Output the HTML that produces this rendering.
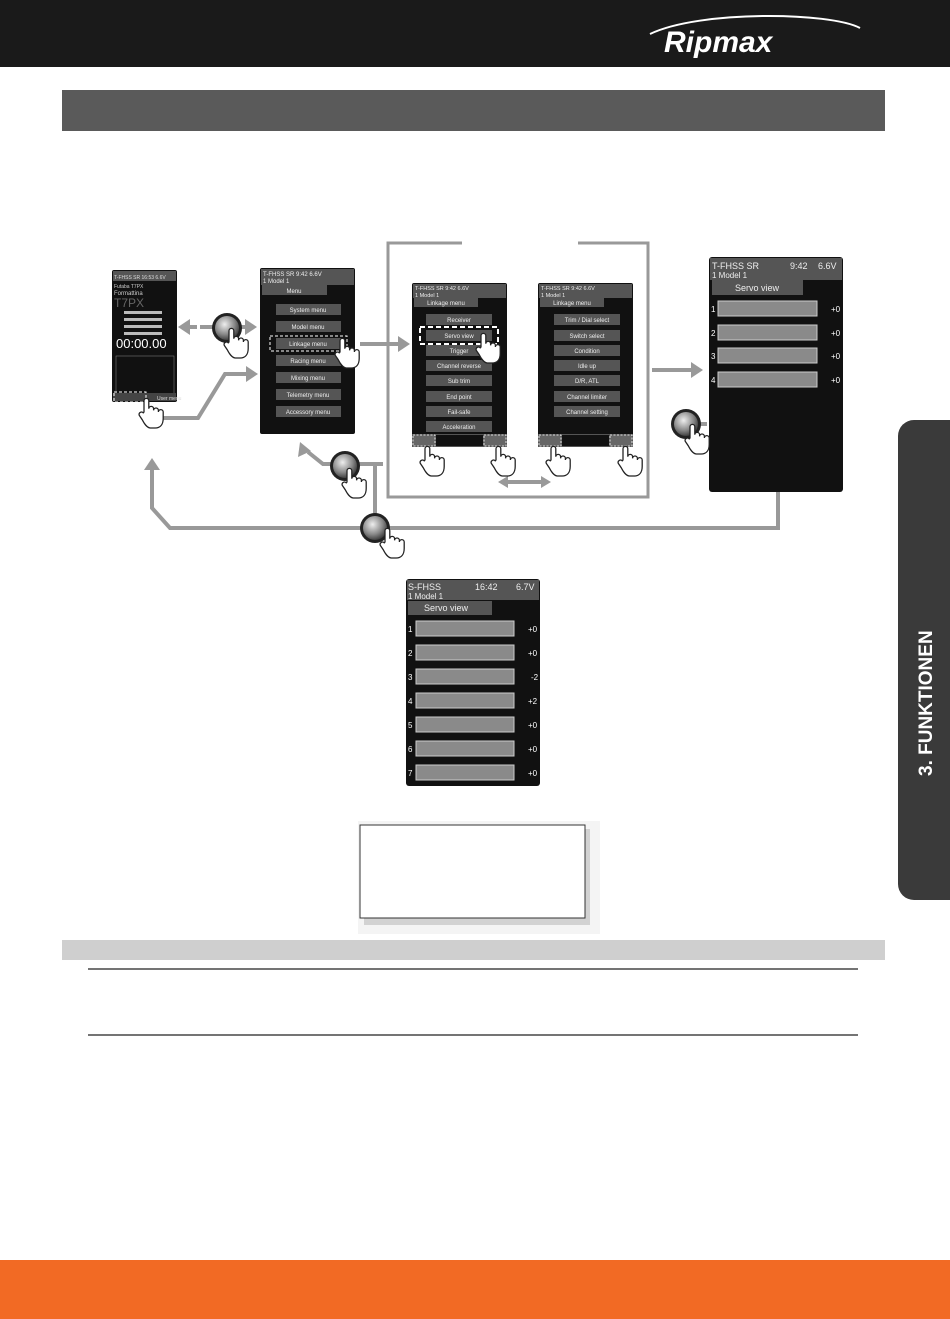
<!DOCTYPE html>
<html><head><meta charset="utf-8"><style>
html,body{margin:0;padding:0;background:#fff;}
svg{display:block;font-family:"Liberation Sans",sans-serif;}
</style></head><body>
<svg width="950" height="1319" viewBox="0 0 950 1319" xmlns="http://www.w3.org/2000/svg">
<defs>
<g id="hand"><path transform="scale(0.8)" d="M0,0 v-14 a3,3 0 0 1 6,0 v10 a3,3 0 0 1 6,0 v2 a3,3 0 0 1 6,0 v2 a3,3 0 0 1 6,0 v8 c0,8 -4,12 -10,12 h-6 c-4,0 -8,-6 -10,-10 l-4,-6 a3,3 0 0 1 5,-3 z" fill="#fff" stroke="#222" stroke-width="1.6"/></g>
<radialGradient id="bt" cx="0.4" cy="0.35" r="0.7"><stop offset="0" stop-color="#eee"/><stop offset="0.6" stop-color="#888"/><stop offset="1" stop-color="#333"/></radialGradient>
<g id="btn"><circle r="15" fill="#222"/><circle r="12" fill="url(#bt)"/></g>
</defs>
<rect x="0" y="0" width="950" height="67" fill="#1a1a1a"/>
<path d="M650,34 C700,10 830,12 860,28" stroke="#fff" stroke-width="2" fill="none"/>
<text x="664" y="52" font-size="30" font-weight="bold" font-style="italic" fill="#fff">Ripmax</text>
<rect x="62" y="90" width="823" height="41" fill="#5a5a5a"/>

<g stroke="#999" stroke-width="3" fill="none">
<path d="M462,243 H388 V497 H648 V243 H578"/>
</g>
<g stroke="#999" stroke-width="4" fill="none">
<path d="M200,327 H248"/><path d="M197,327 H182"/>
<path d="M160,418 H198 L225,374 H248"/>
<path d="M360,344 H400"/>
<path d="M652,370 H692"/>
<path d="M707,424 H690"/>
<path d="M383,464 H323 L308,452"/>
<path d="M375,464 V520"/>
<path d="M778,492 V528 H170 L152,508 V468"/>
<path d="M503,482 H545"/>
</g>
<g fill="#999">
<polygon points="257,327 245,319 245,335"/><polygon points="178,327 190,319 190,335"/>
<polygon points="258,374 246,366 246,382"/>
<polygon points="410,344 398,336 398,352"/>
<polygon points="703,370 691,362 691,378"/>
<polygon points="300,442 298,457 311,451"/>
<polygon points="152,458 144,470 160,470"/>
<polygon points="498,482 508,476 508,488"/><polygon points="551,482 541,476 541,488"/>
</g>

<!-- S1 -->
<rect x="112" y="270" width="65" height="132" rx="2" fill="#111"/>
<rect x="113" y="271" width="63" height="10" fill="#555"/>
<text x="114" y="279" font-size="5" fill="#ddd">T-FHSS SR 16:53 6.6V</text>
<text x="114" y="288" font-size="5" fill="#ccc">Futaba T7PX</text>
<text x="114" y="295" font-size="6" fill="#ccc">Formattina</text>
<text x="114" y="307" font-size="12" fill="#666">T7PX</text>
<g fill="#bbb"><rect x="124" y="311" width="38" height="3"/><rect x="124" y="318" width="38" height="3"/><rect x="124" y="325" width="38" height="3"/><rect x="124" y="332" width="38" height="3"/></g>
<text x="116" y="348" font-size="13" fill="#fff">00:00.00</text>
<rect x="116" y="356" width="58" height="38" fill="none" stroke="#777" stroke-width="0.6"/>
<rect x="113" y="393" width="63" height="8" fill="#444"/>
<rect x="114" y="392" width="32" height="10" fill="none" stroke="#fff" stroke-dasharray="3,2"/>
<text x="157" y="400" font-size="5" fill="#ddd">User menu</text>

<!-- S2 -->
<rect x="260" y="268" width="95" height="166" rx="2" fill="#111"/>
<rect x="261" y="269" width="93" height="16" fill="#555"/>
<text x="263" y="276" font-size="6" fill="#eee">T-FHSS SR  9:42  6.6V</text>
<text x="263" y="283" font-size="6" fill="#eee">1  Model 1</text>
<rect x="262" y="285" width="65" height="10" fill="#555"/>
<text x="294" y="293" font-size="6" fill="#eee" text-anchor="middle">Menu</text>
<g fill="#555"><rect x="276" y="304" width="65" height="11"/><rect x="276" y="321" width="65" height="11"/><rect x="276" y="338" width="65" height="11"/><rect x="276" y="355" width="65" height="11"/><rect x="276" y="372" width="65" height="11"/><rect x="276" y="389" width="65" height="11"/><rect x="276" y="406" width="65" height="11"/></g>
<g font-size="6" fill="#eee" text-anchor="middle"><text x="308" y="312">System menu</text><text x="308" y="329">Model menu</text><text x="308" y="346">Linkage menu</text><text x="308" y="363">Racing menu</text><text x="308" y="380">Mixing menu</text><text x="308" y="397">Telemetry menu</text><text x="308" y="414">Accessory menu</text></g>
<rect x="270" y="336" width="77" height="15" fill="none" stroke="#fff" stroke-dasharray="3,2"/>

<!-- S3 -->
<rect x="412" y="283" width="95" height="164" rx="2" fill="#111"/>
<rect x="413" y="284" width="93" height="14" fill="#555"/>
<text x="415" y="290" font-size="5.5" fill="#eee">T-FHSS SR  9:42  6.6V</text>
<text x="415" y="297" font-size="5.5" fill="#eee">1  Model 1</text>
<rect x="414" y="298" width="64" height="9" fill="#555"/>
<text x="446" y="305" font-size="6" fill="#eee" text-anchor="middle">Linkage menu</text>
<g fill="#555"><rect x="426" y="314" width="66" height="11"/><rect x="426" y="330" width="66" height="11"/><rect x="426" y="345" width="66" height="11"/><rect x="426" y="360" width="66" height="11"/><rect x="426" y="375" width="66" height="11"/><rect x="426" y="391" width="66" height="11"/><rect x="426" y="406" width="66" height="11"/><rect x="426" y="421" width="66" height="11"/></g>
<g font-size="6" fill="#eee" text-anchor="middle"><text x="459" y="322">Receiver</text><text x="459" y="338">Servo view</text><text x="459" y="353">Trigger</text><text x="459" y="368">Channel reverse</text><text x="459" y="383">Sub trim</text><text x="459" y="399">End point</text><text x="459" y="414">Fail-safe</text><text x="459" y="429">Acceleration</text></g>
<rect x="420" y="327" width="78" height="17" fill="none" stroke="#fff" stroke-width="2" stroke-dasharray="5,3"/>
<rect x="412" y="434" width="95" height="13" fill="#555"/>
<rect x="413" y="435" width="22" height="11" fill="#666" stroke="#fff" stroke-dasharray="2,1.5" stroke-width="0.8"/>
<rect x="484" y="435" width="22" height="11" fill="#666" stroke="#fff" stroke-dasharray="2,1.5" stroke-width="0.8"/>
<rect x="436" y="435" width="47" height="11" fill="#111"/>

<!-- S4 -->
<rect x="538" y="283" width="95" height="164" rx="2" fill="#111"/>
<rect x="539" y="284" width="93" height="14" fill="#555"/>
<text x="541" y="290" font-size="5.5" fill="#eee">T-FHSS SR  9:42  6.6V</text>
<text x="541" y="297" font-size="5.5" fill="#eee">1  Model 1</text>
<rect x="540" y="298" width="64" height="9" fill="#555"/>
<text x="572" y="305" font-size="6" fill="#eee" text-anchor="middle">Linkage menu</text>
<g fill="#555"><rect x="554" y="314" width="66" height="11"/><rect x="554" y="330" width="66" height="11"/><rect x="554" y="345" width="66" height="11"/><rect x="554" y="360" width="66" height="11"/><rect x="554" y="375" width="66" height="11"/><rect x="554" y="391" width="66" height="11"/><rect x="554" y="406" width="66" height="11"/></g>
<g font-size="6" fill="#eee" text-anchor="middle"><text x="587" y="322">Trim / Dial select</text><text x="587" y="338">Switch select</text><text x="587" y="353">Condition</text><text x="587" y="368">Idle up</text><text x="587" y="383">D/R, ATL</text><text x="587" y="399">Channel limiter</text><text x="587" y="414">Channel setting</text></g>
<rect x="538" y="434" width="95" height="13" fill="#555"/>
<rect x="539" y="435" width="22" height="11" fill="#666" stroke="#fff" stroke-dasharray="2,1.5" stroke-width="0.8"/>
<rect x="610" y="435" width="22" height="11" fill="#666" stroke="#fff" stroke-dasharray="2,1.5" stroke-width="0.8"/>
<rect x="562" y="435" width="47" height="11" fill="#111"/>

<!-- S5 -->
<rect x="709" y="257" width="134" height="235" rx="3" fill="#111"/>
<rect x="710" y="258" width="132" height="22" fill="#555"/>
<text x="712" y="269" font-size="9" fill="#eee">T-FHSS SR</text><text x="790" y="269" font-size="9" fill="#eee">9:42</text><text x="818" y="269" font-size="9" fill="#eee">6.6V</text>
<text x="712" y="278" font-size="8" fill="#eee">1    Model 1</text>
<rect x="712" y="280" width="91" height="15" fill="#555"/>
<text x="757" y="291" font-size="9" fill="#eee" text-anchor="middle">Servo view</text>
<g font-size="8" fill="#fff">
<text x="711" y="312">1</text><text x="711" y="336">2</text><text x="711" y="359">3</text><text x="711" y="383">4</text>
<text x="831" y="312">+0</text><text x="831" y="336">+0</text><text x="831" y="359">+0</text><text x="831" y="383">+0</text></g>
<g fill="#8a8a8a" stroke="#ccc" stroke-width="1"><rect x="718" y="301" width="99" height="15"/><rect x="718" y="325" width="99" height="15"/><rect x="718" y="348" width="99" height="15"/><rect x="718" y="372" width="99" height="15"/></g>

<!-- S6 -->
<rect x="406" y="579" width="134" height="207" rx="3" fill="#111"/>
<rect x="407" y="580" width="132" height="20" fill="#555"/>
<text x="408" y="590" font-size="9" fill="#eee">S-FHSS</text><text x="475" y="590" font-size="9" fill="#eee">16:42</text><text x="516" y="590" font-size="9" fill="#eee">6.7V</text>
<text x="408" y="599" font-size="8" fill="#eee">1    Model 1</text>
<rect x="408" y="601" width="84" height="14" fill="#555"/>
<text x="446" y="611" font-size="9" fill="#eee" text-anchor="middle">Servo view</text>
<g font-size="8" fill="#fff">
<text x="408" y="632">1</text><text x="408" y="656">2</text><text x="408" y="680">3</text><text x="408" y="704">4</text><text x="408" y="728">5</text><text x="408" y="752">6</text><text x="408" y="776">7</text>
<text x="528" y="632">+0</text><text x="528" y="656">+0</text><text x="531" y="680">-2</text><text x="528" y="704">+2</text><text x="528" y="728">+0</text><text x="528" y="752">+0</text><text x="528" y="776">+0</text></g>
<g fill="#8a8a8a" stroke="#ccc" stroke-width="1"><rect x="416" y="621" width="98" height="15"/><rect x="416" y="645" width="98" height="15"/><rect x="416" y="669" width="98" height="15"/><rect x="416" y="693" width="98" height="15"/><rect x="416" y="717" width="98" height="15"/><rect x="416" y="741" width="98" height="15"/><rect x="416" y="765" width="98" height="15"/></g>

<!-- buttons & hands -->
<use href="#btn" x="227" y="328"/><use href="#hand" x="229" y="342"/>
<use href="#hand" x="144" y="412"/>
<use href="#hand" x="340" y="352"/>
<use href="#hand" x="481" y="347"/>
<use href="#btn" x="345" y="466"/><use href="#hand" x="347" y="482"/>
<use href="#btn" x="375" y="528"/><use href="#hand" x="385" y="542"/>
<use href="#btn" x="686" y="424"/><use href="#hand" x="690" y="438"/>
<use href="#hand" x="425" y="460"/><use href="#hand" x="496" y="460"/>
<use href="#hand" x="551" y="460"/><use href="#hand" x="623" y="460"/>

<!-- note box -->
<rect x="358" y="821" width="242" height="113" fill="#f4f4f4"/>
<rect x="364" y="829" width="226" height="96" fill="#bbb" opacity="0.6"/>
<rect x="360" y="825" width="225" height="93" fill="#fff" stroke="#333" stroke-width="1"/>

<rect x="62" y="940" width="823" height="20" fill="#cfcfcf"/>
<line x1="88" y1="969" x2="858" y2="969" stroke="#222" stroke-width="1.2"/>
<line x1="88" y1="1035" x2="858" y2="1035" stroke="#222" stroke-width="1.2"/>

<path d="M950,420 H914 a16,16 0 0 0 -16,16 V884 a16,16 0 0 0 16,16 H950 z" fill="#3a3a3a"/>
<text transform="translate(932,776) rotate(-90)" font-size="19" font-weight="bold" fill="#fff">3. FUNKTIONEN</text>

<rect x="0" y="1260" width="950" height="59" fill="#f26a24"/>
</svg>
</body></html>
